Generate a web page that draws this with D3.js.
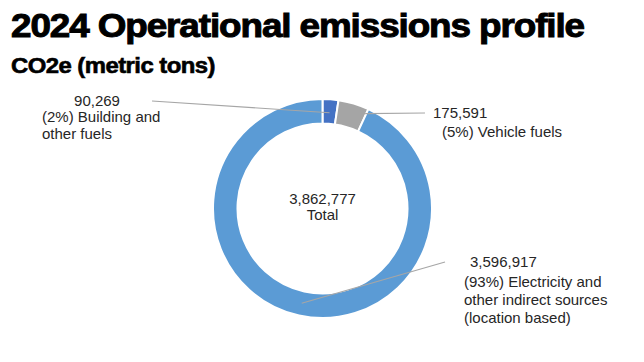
<!DOCTYPE html>
<html>
<head>
<meta charset="utf-8">
<script src="https://cdn.jsdelivr.net/npm/d3@7"></script>
<style>
  body { margin: 0; background: #fff; }
  .title { font-family: "Liberation Sans", Arial, sans-serif; font-weight: 700; fill: #000; stroke: #000; stroke-width: 1px; }
  .lbl { font-family: "Liberation Sans", Arial, sans-serif; font-size: 15px; fill: #262626; }
</style>
</head>
<body>
<div id="container"></div>
<script>
var width = 644, height = 362;

// data
const categories = ["Building and other fuels", "Vehicle fuels", "Electricity and other indirect sources"];
const values = [90269, 175591, 3596917];
const colors = ["#4472c4", "#a5a5a5", "#5b9bd5"];
const total = 3862777;

const svg = d3.select("#container")
    .append("svg")
      .attr("width", width)
      .attr("height", height);

svg.append("text")
  .attr("class", "title")
  .attr("x", 11)
  .attr("y", 37)
  .attr("textLength", 573)
  .attr("lengthAdjust", "spacingAndGlyphs")
  .style("font-size", "34px")
  .style("letter-spacing", "-1px")
  .text("2024 Operational emissions profile");

svg.append("text")
  .attr("class", "title")
  .attr("x", 11)
  .attr("y", 73)
  .attr("textLength", 204)
  .attr("lengthAdjust", "spacingAndGlyphs")
  .style("font-size", "22px")
  .style("stroke-width", "0.6px")
  .style("letter-spacing", "-0.5px")
  .text("CO2e (metric tons)");

const cx = 322.5, cy = 208.5;
const outerR = 109.5, innerR = 85;

const pie = d3.pie().sort(null).value(d => d.value);
const arcs = pie(values.map((v, i) => ({ name: categories[i], value: v, color: colors[i] })));

const arc = d3.arc().innerRadius(innerR).outerRadius(outerR);

const g = svg.append("g")
    .attr("transform", "translate(" + cx + "," + cy + ")");

g.selectAll("path")
  .data(arcs)
  .enter()
  .append("path")
    .attr("d", arc)
    .attr("fill", d => d.data.color)
    .attr("stroke", "#fff")
    .attr("stroke-width", 2);

// center total
g.append("text")
  .attr("class", "lbl")
  .attr("text-anchor", "middle")
  .attr("y", -5)
  .text(d3.format(",")(total));
g.append("text")
  .attr("class", "lbl")
  .attr("text-anchor", "middle")
  .attr("y", 11)
  .text("Total");

// leader lines: start near label, end on slice
function pt(angle, r) {
  return [Math.sin(angle) * r, -Math.cos(angle) * r];
}
const leaders = [
  { from: [152 - cx, 101 - cy], to: pt((arcs[0].startAngle + arcs[0].endAngle) / 2, 96) },
  { from: [425 - cx, 113 - cy], to: pt(arcs[1].endAngle - 0.01, 104) },
  { from: [445 - cx, 262 - cy], to: pt((arcs[2].startAngle + arcs[2].endAngle) / 2, 97) }
];

g.selectAll(".leader")
  .data(leaders)
  .enter()
  .append("line")
    .attr("class", "leader")
    .attr("x1", d => d.from[0])
    .attr("y1", d => d.from[1])
    .attr("x2", d => d.to[0])
    .attr("y2", d => d.to[1])
    .attr("stroke", "#a6a6a6")
    .attr("stroke-width", 1.2);

// slice labels
const pct = d => Math.round(d.value / total * 100) + "%";
const fmt = d3.format(",");
const labelLines = [
  [
    { x: 97, y: 106, anchor: "middle", t: fmt(values[0]) },
    { x: 42, y: 122, anchor: "start", t: "(" + pct(arcs[0]) + ") Building and" },
    { x: 42, y: 139, anchor: "start", t: "other fuels" }
  ],
  [
    { x: 433, y: 118, anchor: "start", t: fmt(values[1]) },
    { x: 442, y: 137, anchor: "start", t: "(" + pct(arcs[1]) + ") Vehicle fuels" }
  ],
  [
    { x: 470, y: 267, anchor: "start", t: fmt(values[2]) },
    { x: 464, y: 287, anchor: "start", t: "(" + pct(arcs[2]) + ") Electricity and" },
    { x: 464, y: 305, anchor: "start", t: "other indirect sources" },
    { x: 464, y: 323, anchor: "start", t: "(location based)" }
  ]
];

svg.selectAll(".slbl")
  .data(labelLines.flat())
  .enter()
  .append("text")
    .attr("class", "lbl slbl")
    .attr("x", d => d.x)
    .attr("y", d => d.y)
    .attr("text-anchor", d => d.anchor)
    .text(d => d.t);
</script>
</body>
</html>
